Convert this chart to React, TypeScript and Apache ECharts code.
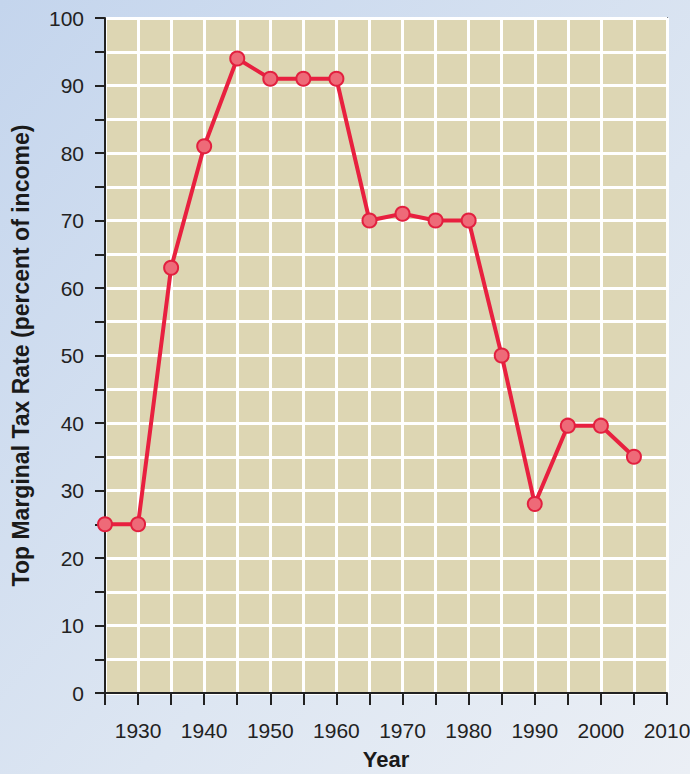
import React, { useEffect, useRef } from "react";
import * as echarts from "echarts";

const years = [1925, 1930, 1935, 1940, 1945, 1950, 1955, 1960, 1965, 1970, 1975, 1980, 1985, 1990, 1995, 2000, 2005];
const rates = [25, 25, 63, 81, 94, 91, 91, 91, 70, 71, 70, 70, 50, 28, 39.6, 39.6, 35];
const yTitle = "Top Marginal Tax Rate (percent of income)";
const xTitle = "Year";

export default function App() {
  const ref = useRef<HTMLDivElement>(null);
  useEffect(() => {
    const chart = echarts.init(ref.current!, null, { renderer: "svg" });
    const tickFont = "'Liberation Sans Narrow', 'Liberation Sans', Arial, sans-serif";
    chart.setOption({
      animation: false,
      backgroundColor: {
        type: "linear", x: 0, y: 0, x2: 1, y2: 1,
        colorStops: [
          { offset: 0, color: "#c4d5ed" },
          { offset: 0.6, color: "#dde6f2" },
          { offset: 1, color: "#ebeff5" },
        ],
      },
      grid: {
        left: 105, top: 18, width: 562, height: 675,
        outerBoundsMode: "none", containLabel: false,
        show: true, backgroundColor: "#ddd6b3", borderColor: "#333", borderWidth: 1.5,
      },
      xAxis: {
        type: "value", min: 1925, max: 2010, interval: 5,
        name: xTitle, nameLocation: "middle", nameGap: 55,
        nameTextStyle: { fontFamily: "'Liberation Sans', Arial, sans-serif", fontWeight: "bold", fontSize: 22, color: "#1a1a1a" },
        axisLine: { show: true, lineStyle: { color: "#222", width: 2 } },
        axisTick: { show: true, length: 12, lineStyle: { color: "#222", width: 2 } },
        axisLabel: {
          margin: 27, fontSize: 21, color: "#222", fontFamily: tickFont,
          formatter: (v: number) => (v % 10 === 0 ? String(v) : ""),
        },
        splitLine: { show: true, lineStyle: { color: "#ffffff", width: 3 } },
      },
      yAxis: {
        type: "value", min: 0, max: 100, interval: 5,
        name: yTitle, nameLocation: "middle", nameGap: 73,
        nameTextStyle: { fontFamily: "'Liberation Sans', Arial, sans-serif", fontWeight: "bold", fontSize: 23, color: "#1a1a1a" },
        axisLine: { show: true, lineStyle: { color: "#222", width: 2 } },
        axisTick: { show: true, length: 10, lineStyle: { color: "#222", width: 2 } },
        axisLabel: {
          margin: 21, fontSize: 21, color: "#222", fontFamily: tickFont,
          formatter: (v: number) => (v % 10 === 0 ? String(v) : ""),
        },
        splitLine: { show: true, lineStyle: { color: "#ffffff", width: 3 } },
      },
      series: [
        {
          type: "line",
          data: years.map((y, i) => [y, rates[i]]),
          symbol: "circle", symbolSize: 14,
          lineStyle: { color: "#e8203f", width: 4 },
          itemStyle: { color: "#ee6a78", borderColor: "#e2203f", borderWidth: 2 },
        },
      ],
    });
    return () => chart.dispose();
  }, []);
  return <div ref={ref} style={{ position: "fixed", left: 0, top: 0, width: 690, height: 774 }} />;
}
